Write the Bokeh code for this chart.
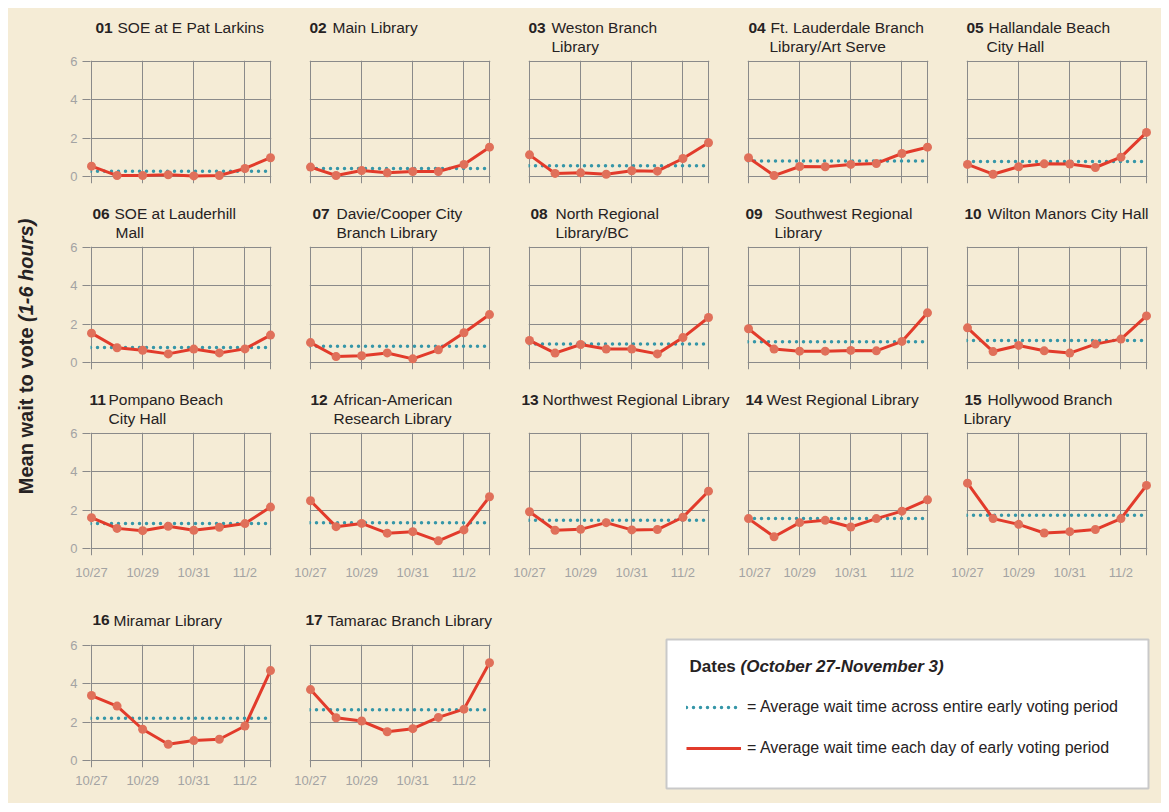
import math
from bokeh.plotting import figure
from bokeh.layouts import row, column
from bokeh.models import FixedTicker, Label, Span, Legend, LegendItem, Spacer
from bokeh.core.properties import value
from bokeh.embed import file_html
from bokeh.resources import INLINE

# ---------------- data ----------------
DATES = ["10/27", "10/28", "10/29", "10/30", "10/31", "11/1", "11/2", "11/3"]
GRID_DATES = ["10/27", "10/29", "10/31", "11/2", "11/3"]
LABELED_DATES = ["10/27", "10/29", "10/31", "11/2"]
Y_TICKS = [0, 2, 4, 6]

STATION_NUMBERS = ["01", "02", "03", "04", "05", "06", "07", "08", "09", "10",
                   "11", "12", "13", "14", "15", "16", "17"]
STATION_NAMES = ["SOE at E Pat Larkins", "Main Library", "Weston Branch",
                 "Ft. Lauderdale Branch", "Hallandale Beach", "SOE at Lauderhill",
                 "Davie/Cooper City", "North Regional", "Southwest Regional",
                 "Wilton Manors City Hall", "Pompano Beach", "African-American",
                 "Northwest Regional Library", "West Regional Library",
                 "Hollywood Branch", "Miramar Library", "Tamarac Branch Library"]
STATION_NAMES_LINE2 = ["", "", "Library", "Library/Art Serve", "City Hall", "Mall",
                       "Branch Library", "Library/BC", "Library", "", "City Hall",
                       "Research Library", "", "", "Library", "", ""]

S01 = [0.54, 0.05, 0.05, 0.09, 0.03, 0.05, 0.42, 0.98]
S02 = [0.49, 0.05, 0.31, 0.19, 0.26, 0.26, 0.63, 1.53]
S03 = [1.13, 0.16, 0.19, 0.12, 0.30, 0.28, 0.94, 1.76]
S04 = [0.98, 0.05, 0.52, 0.51, 0.63, 0.68, 1.20, 1.53]
S05 = [0.63, 0.12, 0.51, 0.66, 0.65, 0.47, 1.01, 2.30]
S06 = [1.53, 0.77, 0.64, 0.45, 0.70, 0.50, 0.71, 1.43]
S07 = [1.04, 0.31, 0.35, 0.50, 0.19, 0.66, 1.55, 2.50]
S08 = [1.15, 0.49, 0.94, 0.70, 0.70, 0.45, 1.30, 2.35]
S09 = [1.76, 0.70, 0.59, 0.59, 0.63, 0.61, 1.10, 2.59]
S10 = [1.81, 0.57, 0.89, 0.61, 0.49, 0.96, 1.22, 2.43]
S11 = [1.61, 1.05, 0.93, 1.16, 0.95, 1.11, 1.30, 2.16]
S12 = [2.49, 1.14, 1.31, 0.80, 0.88, 0.40, 0.97, 2.70]
S13 = [1.92, 0.95, 1.00, 1.35, 0.97, 0.99, 1.63, 2.99]
S14 = [1.56, 0.61, 1.35, 1.47, 1.12, 1.56, 1.95, 2.54]
S15 = [3.41, 1.56, 1.26, 0.81, 0.88, 0.99, 1.56, 3.29]
S16 = [3.39, 2.84, 1.63, 0.85, 1.04, 1.11, 1.80, 4.69]
S17 = [3.70, 2.23, 2.06, 1.50, 1.66, 2.25, 2.68, 5.10]
DAILY_WAIT = [S01, S02, S03, S04, S05, S06, S07, S08, S09, S10,
              S11, S12, S13, S14, S15, S16, S17]
AVERAGE_WAIT = [0.28, 0.42, 0.56, 0.81, 0.78, 0.78, 0.85, 0.96, 1.08, 1.15,
                1.31, 1.35, 1.47, 1.57, 1.73, 2.20, 2.65]

Y_TITLE_MAIN = "Mean wait to vote"
Y_TITLE_UNITS = "(1-6 hours)"
LEGEND_TITLE_MAIN = "Dates"
LEGEND_TITLE_RANGE = "(October 27-November 3)"
LEGEND_AVG = "= Average wait time across entire early voting period"
LEGEND_DAY = "= Average wait time each day of early voting period"

# ---------------- style / layout ----------------
BG = "#F5ECD6"
GRID = "#8A8A8A"
RED = "#E23B2B"
MARK = "#E0705A"
TEAL = "#3596A8"
TICK = "#A3A3A3"
TEXT = "#262223"
FONT = "Liberation Sans"

PPD = 179 / 7          # px per day
PPU = 115 / 6          # px per hour
FRAME_W = 181
FRAME_H = 123
COL_W = 219
LEFT_B = 29
ROW_H = [182, 187, 215, 211]
TOP_B = [52, 56, 55, 52]
XLAB_STANDOFF = [0, 0, 9, 5]
TITLE_BASE = [34, 34, 34, 25.5]
LINE2_BASE = 15
ROW_COUNTS = [5, 5, 5, 2]

NUM_DX = [4, -1, -1, 0, -1, 1, 2, 1, -3, -3, -2, 0, -8, -3, -3, 1, -5]
NAME_DX = [22, 23, 23, 22, 22, 22, 24, 25, 29, 23, 19, 23, 21, 21, 23, 21, 22]
LINE2_DX = [0, 0, 23, 21, 20, 23, 24, 25, 29, 0, 19, 23, 0, 0, -1, 0, 0]
EXTRA_W = {12: 20, 13: -20}
EXTRA_LEFT = {13: -20}

xs = list(range(len(DATES)))
grid_x = [DATES.index(d) for d in GRID_DATES]
label_x = [DATES.index(d) for d in LABELED_DATES]


def add_text(p, dx, dy, txt, style="normal"):
    # title text anchored at (first date, top tick) and shifted in screen pixels
    p.text(x=[xs[0]], y=[Y_TICKS[-1]], text=[txt], x_offset=dx, y_offset=-dy,
           text_font=value(FONT), text_font_size=value("15.5px"),
           text_font_style=style, text_color=TEXT, text_align="left",
           text_baseline="alphabetic", level="overlay")


def make_panel(k, r, c):
    w = COL_W + (4 if c == 4 else 0) + EXTRA_W.get(k, 0)
    left = LEFT_B + EXTRA_LEFT.get(k, 0)
    p = figure(width=w, height=ROW_H[r], title=None, toolbar_location=None,
               output_backend="svg",
               x_range=(-1 / PPD, len(DATES) - 1 + 1 / PPD),
               y_range=(-7 / PPU, Y_TICKS[-1] + 1 / PPU),
               min_border_left=left, min_border_right=w - left - FRAME_W,
               min_border_top=TOP_B[r],
               min_border_bottom=ROW_H[r] - TOP_B[r] - FRAME_H,
               x_axis_location="below" if r >= 2 else None,
               y_axis_location="left" if c == 0 else None)
    p.background_fill_color = BG
    p.border_fill_color = BG
    p.outline_line_color = None
    p.xgrid.ticker = FixedTicker(ticks=grid_x)
    p.ygrid.ticker = FixedTicker(ticks=Y_TICKS)
    p.grid.grid_line_color = GRID
    p.grid.grid_line_width = 1

    if c == 0:
        p.yaxis.ticker = FixedTicker(ticks=Y_TICKS)
        p.yaxis.axis_line_color = None
        p.yaxis.major_tick_line_color = GRID
        p.yaxis.major_tick_out = 8
        p.yaxis.major_tick_in = 0
        p.yaxis.minor_tick_line_color = None
        p.yaxis.major_label_text_color = TICK
        p.yaxis.major_label_text_font = FONT
        p.yaxis.major_label_text_font_size = "13px"
        p.yaxis.major_label_standoff = 5
    if r >= 2:
        p.xaxis.ticker = FixedTicker(ticks=label_x)
        p.xaxis.major_label_overrides = {i: DATES[i] for i in label_x}
        p.xaxis.axis_line_color = None
        p.xaxis.major_tick_line_color = None
        p.xaxis.major_tick_out = 0
        p.xaxis.major_tick_in = 0
        p.xaxis.minor_tick_line_color = None
        p.xaxis.major_label_text_color = TICK
        p.xaxis.major_label_text_font = FONT
        p.xaxis.major_label_text_font_size = "13px"
        p.xaxis.major_label_standoff = XLAB_STANDOFF[r]

    p.add_layout(Span(location=AVERAGE_WAIT[k], dimension="width", line_color=TEAL,
                      line_width=3.5, line_dash="0 7", line_cap="round"))
    p.line(xs, DAILY_WAIT[k], line_color=RED, line_width=3, level="overlay")
    p.scatter(xs, DAILY_WAIT[k], size=9, fill_color=MARK, line_color=None, level="overlay")

    base = TITLE_BASE[r]
    add_text(p, NUM_DX[k], base, STATION_NUMBERS[k], "bold")
    add_text(p, NUM_DX[k] + NAME_DX[k], base, STATION_NAMES[k])
    if STATION_NAMES_LINE2[k]:
        add_text(p, NUM_DX[k] + LINE2_DX[k], LINE2_BASE, STATION_NAMES_LINE2[k])
    return p


# ---------------- legend box ----------------
LEG_W = 662
LEG_FRAME_W = 482
LEG_FRAME_H = 149
lf = figure(width=LEG_W, height=ROW_H[3], title=None, toolbar_location=None,
            output_backend="svg", x_range=(0, LEG_FRAME_W), y_range=(0, LEG_FRAME_H),
            min_border_left=167, min_border_right=LEG_W - 167 - LEG_FRAME_W,
            min_border_top=47, min_border_bottom=ROW_H[3] - 47 - LEG_FRAME_H,
            x_axis_location=None, y_axis_location=None)
if "frame_align" in lf.properties():
    lf.frame_align = False
lf.grid.visible = False
lf.background_fill_color = "white"
lf.border_fill_color = BG
lf.outline_line_color = "#C9C9C9"
lf.outline_line_width = 2
nan = float("nan")
ra = lf.line(x=[nan], y=[nan], line_color=TEAL, line_width=3.5, line_dash="0 7",
             line_cap="round")
rd = lf.line(x=[nan], y=[nan], line_color=RED, line_width=3)
legend = Legend(items=[LegendItem(label=value(LEGEND_AVG), renderers=[ra]),
                       LegendItem(label=value(LEGEND_DAY), renderers=[rd])],
                location=(20, 30), glyph_width=55, glyph_height=20, label_height=20,
                label_standoff=6, spacing=21, padding=0, margin=0,
                border_line_color=None, background_fill_alpha=0,
                label_text_font=FONT, label_text_font_size="16px", label_text_color=TEXT)
lf.add_layout(legend)
lf.add_layout(Label(x=23, y=122, text=LEGEND_TITLE_MAIN, text_font=FONT,
                    text_font_size="17px", text_font_style="bold", text_color=TEXT,
                    text_baseline="alphabetic"))
lf.add_layout(Label(x=74, y=122, text=LEGEND_TITLE_RANGE, text_font=FONT,
                    text_font_size="17px", text_font_style="bold italic", text_color=TEXT,
                    text_baseline="alphabetic"))

# ---------------- y-axis title ----------------
TOTAL_H = sum(ROW_H)
yf = figure(width=53, height=TOTAL_H, title=None, toolbar_location=None,
            output_backend="svg", x_range=(0, 53), y_range=(0, TOTAL_H),
            min_border=0, x_axis_location=None, y_axis_location=None)
yf.grid.visible = False
yf.background_fill_color = BG
yf.border_fill_color = BG
yf.outline_line_color = None
yf.add_layout(Label(x=17, y=TOTAL_H - 319, text=Y_TITLE_MAIN, angle=math.pi / 2,
                    text_align="right", text_baseline="middle", text_font=FONT,
                    text_font_size="20px", text_font_style="bold", text_color=TEXT))
yf.add_layout(Label(x=17, y=TOTAL_H - 313.5, text=Y_TITLE_UNITS, angle=math.pi / 2,
                    text_align="left", text_baseline="middle", text_font=FONT,
                    text_font_size="20px", text_font_style="bold italic", text_color=TEXT))

# ---------------- assemble ----------------
rows_layout = []
k = 0
for r, n in enumerate(ROW_COUNTS):
    figs = []
    for c in range(n):
        figs.append(make_panel(k, r, c))
        k += 1
    if r == 3:
        figs.append(lf)
    rows_layout.append(row(*figs, spacing=0, styles={"background-color": BG}))

inner = row(yf, column(*rows_layout, spacing=0, styles={"background-color": BG}),
            spacing=0, styles={"background-color": BG})
p = column(Spacer(height=8), row(Spacer(width=8), inner, spacing=0), spacing=0)

open("out.html", "w").write(file_html(p, INLINE))
